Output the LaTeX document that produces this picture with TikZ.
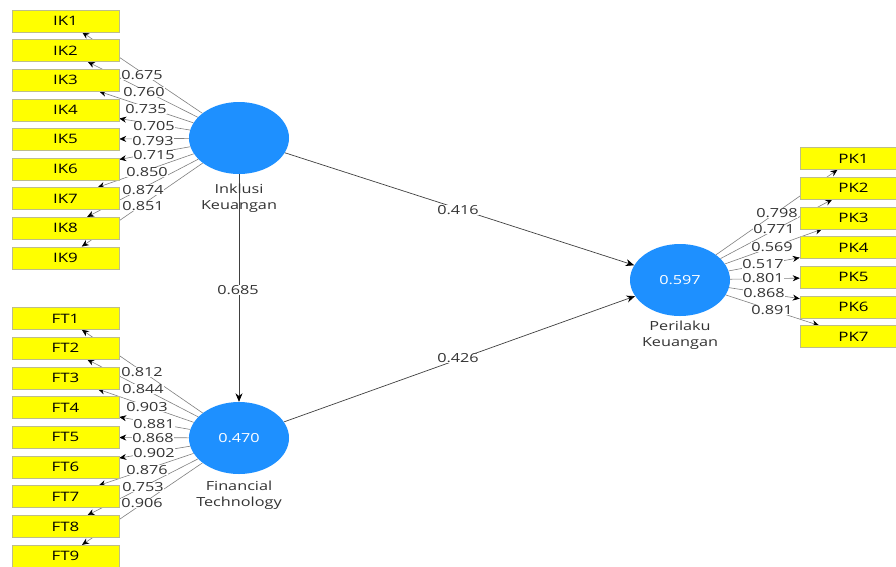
\documentclass[tikz,border=0pt]{standalone}
\usepackage{fontspec}
\setmainfont{Open Sans}[FakeStretch=1.3]
\usetikzlibrary{shapes.geometric,arrows.meta,backgrounds}
\definecolor{lvblue}{HTML}{1E90FF}
\definecolor{mvyellow}{HTML}{FFFF00}
\definecolor{mvborder}{HTML}{BDBD8A}
\definecolor{ldgray}{HTML}{808080}
\definecolor{txtgray}{HTML}{333333}
\begin{document}
\begin{tikzpicture}[x=1pt,y=-1pt,
  lv/.style={ellipse, fill=lvblue, minimum width=100pt, minimum height=72pt, inner sep=0pt, text=white, font=\fontsize{12.5}{15}\selectfont},
  mv/.style={rectangle, fill=mvyellow, draw=mvborder, line width=0.5pt, minimum width=107pt, minimum height=22pt, inner sep=0pt, font=\fontsize{13}{15}\selectfont, text=black},
  ld/.style={draw=ldgray, line width=0.6pt, -{Stealth[length=7pt,width=6pt,color=black]}},
  sp/.style={draw=black!75, line width=0.7pt, -{Stealth[length=8.5pt,width=7pt,color=black]}},
  lbl/.style={fill=white, inner sep=0.3pt, text=txtgray, font=\fontsize{12.5}{14}\selectfont},
  lvname/.style={text=txtgray, align=center, font=\fontsize{12.5}{16}\selectfont}]
\useasboundingbox (0,0) rectangle (896,566);

% latent variables
\node[lv] (IK) at (239,138) {};
\node[lv] (FT) at (239,438) {0.470};
\node[lv] (PK) at (680,280) {0.597};
\node[lvname] (IKn) at (239,198) {Inklusi\\Keuangan};
\node[lvname] (FTn) at (239,495) {Financial\\Technology};
\node[lvname] (PKn) at (680,335) {Perilaku\\Keuangan};

% indicators
\foreach \i in {1,...,9} \node[mv] (ik\i) at (65.5,{21+29.6*(\i-1)}) {IK\i};
\foreach \i in {1,...,9} \node[mv] (ft\i) at (65.5,{318.5+29.7*(\i-1)}) {FT\i};
\foreach \i in {1,...,7} \node[mv] (pk\i) at (853.5,{158.5+29.7*(\i-1)}) {PK\i};

\begin{pgfonlayer}{background}
  \fill[white] (0,0) rectangle (896,566);
  \foreach \i in {1,...,9} \draw[ld] (IK) -- (ik\i);
  \foreach \i in {1,...,9} \draw[ld] (FT) -- (ft\i);
  \foreach \i in {1,...,7} \draw[ld] (PK) -- (pk\i);
  \draw[sp] (IK) -- (PK);
  \draw[sp] (FT) -- (PK);
  \draw[sp] (IK) -- (FT);
\end{pgfonlayer}

% loadings
\foreach \v/\x/\y [count=\k] in {0.675/142/75, 0.760/144/92, 0.735/146/109, 0.793/153/141, 0.705/154/126.5, 0.715/154/155, 0.850/147/172, 0.874/143/190, 0.851/143/206}
  \node[lbl] (lik\k) at (\x,\y) {\v};
\foreach \v/\x/\y [count=\k] in {0.812/142/372, 0.844/143/389, 0.903/147/407, 0.868/153/438, 0.881/154/424, 0.902/154/453, 0.876/147/470, 0.753/143/487, 0.906/142/503}
  \node[lbl] (lft\k) at (\x,\y) {\v};
\foreach \v/\x/\y [count=\k] in {0.798/777/213, 0.771/774/229.5, 0.569/772/247, 0.517/763/264, 0.801/763/278, 0.868/764/293, 0.891/772/310}
  \node[lbl] (lpk\k) at (\x,\y) {\v};

% path coefficients
\node[lbl] (c1) at (458,210) {0.416};
\node[lbl] (c2) at (458,358) {0.426};
\node[lbl] (c3) at (238,290) {0.685};
\end{tikzpicture}
\end{document}
